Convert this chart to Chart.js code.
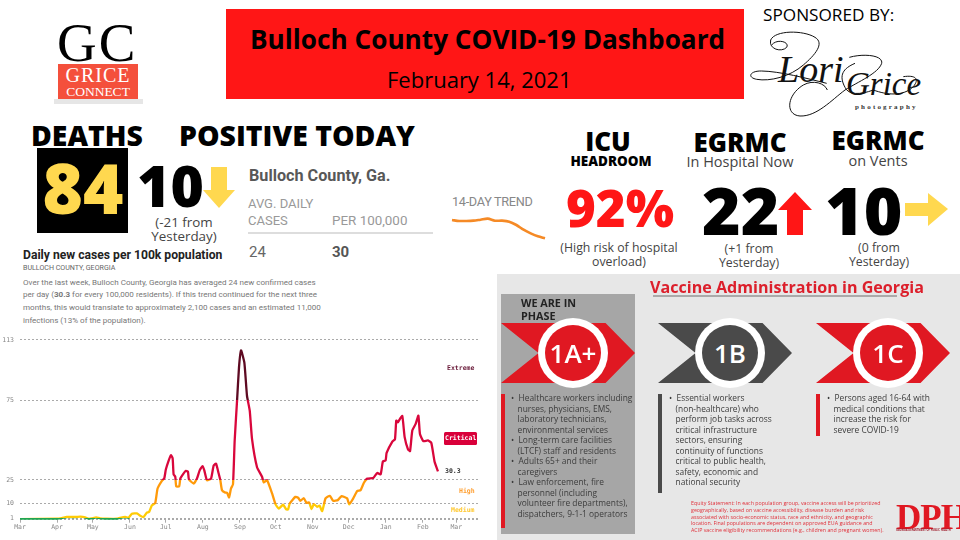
<!DOCTYPE html>
<html>
<head>
<meta charset="utf-8">
<title>Bulloch County COVID-19 Dashboard</title>
<script src="https://cdn.jsdelivr.net/npm/chart.js@4/dist/chart.umd.min.js"></script>
<style>
  html, body { margin: 0; padding: 0; background: #fff; }
  #page { position: relative; width: 960px; height: 540px; overflow: hidden; font-family: "Open Sans", sans-serif; color: #000; }
  .t { position: absolute; white-space: nowrap; line-height: 1; }
  .c { transform: translateX(-50%); text-align: center; }
  .box { position: absolute; }
  .heavy { font-weight: 800; }
  .note { color: #444; font-size: 12.3px; line-height: 14px; white-space: pre; }
  .rb { font-family: Roboto, sans-serif; }
  .mono { font-family: "DejaVu Sans Mono", monospace; font-size: 6.5px; font-weight: bold; }
  canvas { position: absolute; }
  /* vaccine panel */
  #vaccine { position: absolute; left: 497px; top: 274px; width: 463px; height: 266px; background: #e7e7e7; overflow: hidden; }
  .arrow { position: absolute; top: 49px; width: 134px; height: 60px; clip-path: polygon(0 0, 78% 0, 100% 50%, 78% 100%, 0 100%, 28% 50%); }
  .ring { position: absolute; top: 44px; width: 70px; height: 70px; border-radius: 50%; background: #fff; }
  .disc { position: absolute; left: 7px; top: 7px; width: 56px; height: 56px; border-radius: 50%; line-height: 56px; text-align: center; color: #fff; font-size: 26px; font-weight: 600; }
  .side { position: absolute; top: 120px; width: 4px; }
  .list { position: absolute; top: 119px; font-size: 8.4px; line-height: 10.5px; color: #3c3c3c; white-space: pre; }
</style>
</head>
<body>
<div id="page">

  <!-- logo -->
  <div class="t" style="left:57px;top:15px;font:55px/1 'Liberation Serif',serif;letter-spacing:2px">GC</div>
  <div class="box" style="left:58px;top:64px;width:80px;height:35px;background:#f4503c"></div>
  <div class="box" style="left:54px;top:99px;width:89px;height:5px;background:#e6e6e6"></div>
  <div class="t c" style="left:98px;top:65px;font:20px/1 'Liberation Serif',serif;color:#fff;letter-spacing:1px">GRICE</div>
  <div class="t c" style="left:98px;top:85px;font:13.5px/1 'Liberation Serif',serif;color:#fff">CONNECT</div>

  <!-- banner -->
  <div class="box" style="left:226px;top:9px;width:518px;height:90px;background:#ff1616"></div>
  <div class="t" style="left:250px;top:26px;font-size:26.2px;font-weight:700" id="bannerTitle">Bulloch County COVID-19 Dashboard</div>
  <div class="t" style="left:387px;top:68px;font-size:22px">February 14, 2021</div>
  <div class="t" style="left:763px;top:6px;font-size:17.2px">SPONSORED BY:</div>

  <!-- sponsor mark -->
  <svg class="box" style="left:740px;top:0" width="200" height="120" viewBox="0 0 600 360" fill="none" stroke="#111" stroke-width="3">
    <path d="M95 135 C110 115 150 125 140 142 C125 158 85 148 92 120 C105 90 190 90 225 112 C255 130 225 165 190 195 C150 230 90 245 50 238 C20 232 30 212 65 213 C120 214 200 235 260 250"/>
    <path d="M328 172 C370 160 430 165 425 190 C415 220 355 245 315 270 C275 300 230 350 180 348 C135 345 140 285 190 255 C220 238 255 250 262 270"/>
    <path d="M345 190 C310 205 295 225 315 262 C325 285 360 285 400 270 C440 285 490 290 520 260 C540 235 525 225 490 230"/>
  </svg>
  <div class="t" style="left:778px;top:50px;font:italic 38px/1 'Liberation Serif',serif;color:#111">Lori</div>
  <div class="t" style="left:846px;top:68px;font:italic 33px/1 'Liberation Serif',serif;color:#111">Grice</div>
  <div class="t" style="left:855px;top:104px;font:bold 7px/1 'Liberation Serif',serif;letter-spacing:2.2px;color:#333">photography</div>

  <!-- deaths / positive -->
  <div class="t heavy" style="left:31px;top:121px;font-size:28.4px">DEATHS</div>
  <div class="t heavy" style="left:179px;top:121px;font-size:28.4px">POSITIVE TODAY</div>
  <div class="box" style="left:37px;top:148px;width:91px;height:85px;background:#000"></div>
  <div class="t heavy c" style="left:83px;top:153px;font-size:69px;color:#ffd84f">84</div>
  <div class="t heavy" style="left:137px;top:157px;font-size:57px">10</div>
  <div class="t c note" style="left:184px;top:215px;font-size:13.4px">(-21 from
Yesterday)</div>

  <!-- county table -->
  <div class="t rb" style="left:249px;top:168px;font-size:16.2px;font-weight:700;color:#585858">Bulloch County, Ga.</div>
  <div class="t rb" style="left:248px;top:197px;font-size:13px;color:#999">AVG. DAILY</div>
  <div class="t rb" style="left:248px;top:214px;font-size:13px;color:#999">CASES</div>
  <div class="t rb" style="left:332px;top:214px;font-size:13.4px;color:#999">PER 100,000</div>
  <div class="box" style="left:248px;top:232px;width:185px;height:1.5px;background:#ddd"></div>
  <div class="t rb" style="left:249px;top:245px;font-size:15px;color:#666">24</div>
  <div class="t rb" style="left:332px;top:245px;font-size:15px;font-weight:700;color:#555">30</div>
  <div class="t rb" style="left:452px;top:196px;font-size:12.7px;color:#888;letter-spacing:-.3px">14-DAY TREND</div>

  <!-- right-hand stats -->
  <div class="t heavy c" style="left:608px;top:128px;font-size:26px">ICU</div>
  <div class="t heavy c" style="left:611px;top:155px;font-size:13.5px">HEADROOM</div>
  <div class="t heavy c" style="left:740px;top:129px;font-size:26px">EGRMC</div>
  <div class="t c" style="left:740px;top:155px;font-size:14.5px;color:#444">In Hospital Now</div>
  <div class="t heavy c" style="left:878px;top:127px;font-size:26px">EGRMC</div>
  <div class="t c" style="left:878px;top:154px;font-size:14.5px;color:#444">on Vents</div>
  <div class="t heavy c" style="left:620px;top:182px;font-size:51px;color:#ff1616">92%</div>
  <div class="t heavy" style="left:702px;top:176px;font-size:66px">22</div>
  <div class="t heavy" style="left:825px;top:176px;font-size:66px">10</div>
  <div class="t c note" style="left:619px;top:241px">(High risk of hospital
overload)</div>
  <div class="t c note" style="left:749px;top:242px">(+1 from
Yesterday)</div>
  <div class="t c note" style="left:879px;top:241px">(0 from
Yesterday)</div>

  <!-- arrows -->
  <svg class="box" style="left:0;top:0" width="960" height="270">
    <polygon points="211,167 227,167 227,190 235,190 219,208 203,190 211,190" fill="#ffd84f"/>
    <polygon points="795,192 812,210 803,210 803,235 787,235 787,210 778,210" fill="#ff1616"/>
    <polygon points="905,203 928,203 928,193 948,209 928,226 928,216 905,216" fill="#ffd84f"/>
  </svg>

  <!-- description -->
  <div class="t rb" style="left:23px;top:248.5px;font-size:12.15px;font-weight:700;color:#222">Daily new cases per 100k population</div>
  <div class="t rb" style="left:23px;top:264px;font-size:7.1px;color:#666">BULLOCH COUNTY, GEORGIA</div>
  <div class="t rb" style="left:23px;top:276.5px;font-size:8.05px;line-height:12.7px;color:#777;white-space:pre">Over the last week, Bulloch County, Georgia has averaged 24 new confirmed cases
per day (<b>30.3</b> for every 100,000 residents). If this trend continued for the next three
months, this would translate to approximately 2,100 cases and an estimated 11,000
infections (13% of the population).</div>

  <canvas id="trendChart" width="99" height="35" style="left:449px;top:210px;width:99px;height:35px"></canvas>

  <canvas id="caseChart" width="490" height="210" style="left:0;top:330px;width:490px;height:210px"></canvas>

  <!-- risk labels on the right of the chart -->
  <div class="t mono" style="left:447px;top:365px;color:#6a1b3a">Extreme</div>
  <div class="box" style="left:444px;top:432px;width:33px;height:13px;background:#d9003a;border-radius:1.5px"></div>
  <div class="t mono" style="left:445px;top:435px;color:#fff">Critical</div>
  <div class="t mono" style="left:445px;top:468px;color:#333">30.3</div>
  <div class="t mono" style="left:459px;top:488px;color:#ffa033">High</div>
  <div class="t mono" style="left:451px;top:507px;color:#ffc933">Medium</div>

  <!-- vaccine panel -->
  <div id="vaccine">
    <div class="t" style="left:153px;top:5px;font-size:16.1px;font-weight:700;color:#dc1f2b">Vaccine Administration in Georgia</div>
    <div class="box" style="left:156px;top:21px;width:244px;height:1.5px;background:#aaa"></div>
    <div class="box" style="left:4px;top:20px;width:134px;height:240px;background:#a6a6a6"></div>
    <div class="t" style="left:24px;top:22px;font-size:10.8px;line-height:13px;font-weight:700;color:#222;white-space:pre">WE ARE IN
PHASE</div>

    <div class="arrow" style="left:4px;background:#e01822"></div>
    <div class="ring" style="left:41px"><div class="disc" style="background:#e01822">1A+</div></div>
    <div class="side" style="left:4px;height:134px;background:#e01822"></div>
    <div class="list" style="left:14px">•  Healthcare workers including
   nurses, physicians, EMS,
   laboratory technicians,
   environmental services
•  Long-term care facilities
   (LTCF) staff and residents
•  Adults 65+ and their
   caregivers
•  Law enforcement, fire
   personnel (including
   volunteer fire departments),
   dispatchers, 9-1-1 operators</div>

    <div class="arrow" style="left:161px;background:#4a4a4a"></div>
    <div class="ring" style="left:198px"><div class="disc" style="background:#4a4a4a">1B</div></div>
    <div class="side" style="left:161px;height:99px;background:#4a4a4a"></div>
    <div class="list" style="left:172px">•  Essential workers
   (non-healthcare) who
   perform job tasks across
   critical infrastructure
   sectors, ensuring
   continuity of functions
   critical to public health,
   safety, economic and
   national security</div>

    <div class="arrow" style="left:319px;background:#e01822"></div>
    <div class="ring" style="left:356px"><div class="disc" style="background:#e01822">1C</div></div>
    <div class="side" style="left:319px;height:42px;background:#e01822"></div>
    <div class="list" style="left:330px">•  Persons aged 16-64 with
   medical conditions that
   increase the risk for
   severe COVID-19</div>

    <div class="t" style="left:194px;top:226px;font-size:5.3px;line-height:6.8px;color:#e0303a;white-space:pre">Equity Statement: In each population group, vaccine access will be prioritized
geographically, based on vaccine accessibility, disease burden and risk
associated with socio-economic status, race and ethnicity, and geographic
location. Final populations are dependent on approved EUA guidance and
ACIP vaccine eligibility recommendations (e.g., children and pregnant women).</div>
    <div class="t" style="left:399px;top:226px;font:bold 35px/1 'Liberation Serif',serif;color:#e01822;letter-spacing:-1px">DPH</div>
    <div class="t" style="left:399px;top:255px;font-size:2.6px;font-weight:700;color:#a02030">GEORGIA DEPARTMENT OF PUBLIC HEALTH</div>
  </div>
</div>

<script>
// daily new cases per 100k (days since Mar 1 2020)
const caseDays = [0,30.7,34.9,39.1,43.3,46.9,50.3,54.5,57.3,60,63.7,67,72.6,81,83.8,88,90.8,93.6,97.8,100.6,103.4,106.1,108.1,110.3,113.1,115.1,118.7,120.7,122,124.3,126.3,127.7,128.5,129.9,130.7,133.2,134.1,136.3,138.5,140.5,141.3,145.3,148,150.3,152.8,154.2,156.4,159.8,162,164,166.2,167.6,169,171.8,173.2,174.9,176.5,178.2,179.6,181.6,183.2,184.9,187.7,189.9,192.2,194.1,198.3,202.5,203.9,206.7,210.9,213.7,216.5,220.1,222.7,224.3,225.7,230.4,232.7,234.6,237.4,239.7,241.9,243.9,245.8,248.6,250.6,252.8,255.6,259.2,262,265.9,269,273.7,275.4,278.8,282.1,284.9,287.7,290.5,295.5,298.9,301.7,303.6,305.9,306.7,311.5,313.7,314.8,316.2,317,319.8,321.8,324.6,326.3,328.2,331,333.3,334.6,337.4,341.3,344.1,346.9,349.7];
const caseValues = [0.4,0.6,1.0,1.7,1.7,1.7,1.9,1.5,0.6,0.8,1.5,0.8,0.6,0.6,1.2,1.7,1.2,3.7,4,2.5,1.7,4.4,5,9,10.4,19.6,24.4,26,31.5,37,40.5,38.5,28.5,27,21,21,25.8,28.5,30.6,30.2,25.4,22.7,25.8,31,33.7,31,24.8,25.8,34,35.2,29,24.8,18.5,17,17,14,19.6,22.3,49.8,75,95.6,106.4,98.7,77.9,68.5,50.8,33,27,23.4,24.8,16.5,9.8,7,9.4,6.5,6.5,10.2,14.4,13.8,11.9,13.5,10.6,10.8,6.7,9.8,8.1,8.8,5.4,13.4,15,11.9,12.3,14.8,13.4,9.6,13.4,18,18.5,23.2,25.8,26.2,29.4,28.5,36.6,37.3,42,49.1,50.6,62.3,61.2,62.3,65.2,51.9,44.2,43.1,56,60.2,65.4,53.9,49.4,49.8,48.3,36.2,30.3];

const yTickValues = [0,1,10,25,75,113];
const monthLabels = ['Mar','Apr','May','Jun','Jul','Aug','Sep','Oct','Nov','Dec','Jan','Feb','Mar'];
const monthDays = [0,31,61,92,122,153,184,214,245,275,306,337,365];

// colour of the line by risk band
const riskLimits = [1,10,25,75];
const riskColors = ['#1fa650','#ffcb05','#ff9a0a','#d9073c','#5e0a22'];

// 14-day trend, arbitrary units
const trendValues = [60,57,57,58,61,64,58,58,55,45,31,20,11,5];

function bandStroke(ctx) {
  const chart = ctx.chart;
  if (!chart.chartArea) return riskColors[0];
  const y = chart.scales.y;
  const g = chart.ctx.createLinearGradient(0, y.getPixelForValue(y.min), 0, y.getPixelForValue(y.max));
  const span = y.max - y.min;
  let start = 0;
  riskColors.forEach((color, i) => {
    const end = i < riskLimits.length ? riskLimits[i] / span : 1;
    g.addColorStop(start, color);
    g.addColorStop(end, color);
    start = end;
  });
  return g;
}

new Chart(document.getElementById('caseChart'), {
  type: 'line',
  data: {
    datasets: [{
      data: caseDays.map((d, i) => ({ x: d, y: caseValues[i] })),
      borderColor: bandStroke,
      borderWidth: 2.3,
      pointRadius: 0,
      tension: 0.15
    }]
  },
  options: {
    responsive: false,
    animation: false,
    layout: { padding: { top: 8.3, right: 11, left: 0, bottom: 0 } },
    plugins: { legend: { display: false }, tooltip: { enabled: false } },
    scales: {
      x: {
        type: 'linear',
        min: 0,
        max: 384,
        afterBuildTicks: scale => { scale.ticks = monthDays.map(v => ({ value: v })); },
        afterFit: scale => { scale.height = 20.3; },
        border: { display: false },
        grid: { drawOnChartArea: false, tickLength: 3, color: '#aaa' },
        ticks: {
          autoSkip: false,
          maxRotation: 0,
          padding: 1,
          color: '#888',
          font: { family: 'DejaVu Sans Mono', size: 6.5 },
          callback: value => monthLabels[monthDays.indexOf(value)]
        }
      },
      y: {
        min: 0,
        max: 113,
        afterBuildTicks: scale => { scale.ticks = yTickValues.map(v => ({ value: v })); },
        afterFit: scale => { scale.width = 20; },
        border: { display: false, dash: [2, 2] },
        grid: { color: '#aaa', lineWidth: 1, drawTicks: false },
        ticks: {
          padding: 6,
          color: '#888',
          font: { family: 'DejaVu Sans Mono', size: 6.5 },
          callback: value => (value === 0 ? '' : String(value))
        }
      }
    }
  }
});

new Chart(document.getElementById('trendChart'), {
  type: 'line',
  data: {
    labels: trendValues.map((v, i) => i + 1),
    datasets: [{ data: trendValues, borderColor: '#f58a26', borderWidth: 2.6, pointRadius: 0, tension: 0.3 }]
  },
  options: {
    responsive: false,
    animation: false,
    layout: { padding: { left: 3, right: 3 } },
    plugins: { legend: { display: false }, tooltip: { enabled: false } },
    scales: {
      x: { display: false },
      y: { display: false, min: -15, max: 90 }
    }
  }
});
</script>
</body>
</html>
